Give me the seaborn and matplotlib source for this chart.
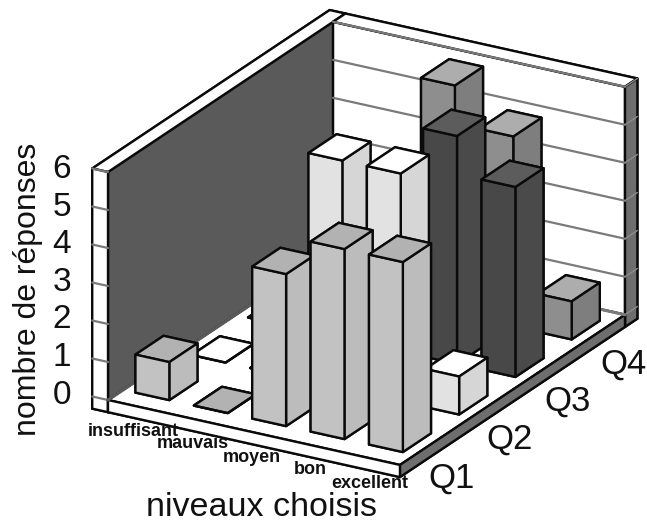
import numpy as np
import pandas as pd
import seaborn as sns
import matplotlib
matplotlib.use("Agg")
import matplotlib.pyplot as plt
from mpl_toolkits.mplot3d import proj3d

# ---- data -------------------------------------------------------------
levels = ["insuffisant", "mauvais", "moyen", "bon", "excellent"]
questions = ["Q1", "Q2", "Q3", "Q4"]
q1_values = [1, 0, 4, 5, 5]
q2_values = [0, 0, 6, 6, 1]
q3_values = [0, 0, 0, 6, 5]
q4_values = [0, 0, 6, 5, 1]
z_ticks = [0, 1, 2, 3, 4, 5, 6]
# face colours (top, front, side)
q1_colors = ["#b2b2b2", "#c2c2c2", "#bcbcbc"]
q2_colors = ["#ffffff", "#e2e2e2", "#d6d6d6"]
q3_colors = ["#5c5c5c", "#484848", "#4a4a4a"]
q4_colors = ["#adadad", "#8e8e8e", "#7e7e7e"]

df = pd.DataFrame({"Q1": q1_values, "Q2": q2_values, "Q3": q3_values, "Q4": q4_values}, index=levels)
palette = {"Q1": q1_colors, "Q2": q2_colors, "Q3": q3_colors, "Q4": q4_colors}

sns.set_theme(style="white")
plt.rcParams["font.family"] = ["Liberation Sans", "DejaVu Sans"]

W, H = 647, 523
fig = plt.figure(figsize=(W / 100, H / 100), dpi=100)
ax = fig.add_axes([0, 0, 1, 1], projection="3d")
ax.computed_zorder = False
ax.set_proj_type("ortho")
ax.view_init(elev=22.66, azim=-60)
ax.set_axis_off()
ax.patch.set_alpha(0)

nx, ny, zmax = len(levels), len(questions), max(z_ticks)
wall_x, wall_y, slab = 0.27, 0.22, 0.32
EDGE = "#0a0a0a"
WALL_DARK = "#5a5a5a"
END_GRAY = "#6e6e6e"
GRID = "#7a7a7a"


def box(x, y, z, dx, dy, dz, top, front, side, zo, lw=1.7):
    col = ax.bar3d(x, y, z, dx, dy, dz, color=[top, top, front, front, side, side],
                   shade=False, edgecolor=EDGE, linewidth=lw)
    col.set_zorder(zo)
    col.set_clip_on(False)
    return col


def seg(xs, ys, zs, c, w, zo):
    ln, = ax.plot(xs, ys, zs, color=c, lw=w, zorder=zo)
    ln.set_clip_on(False)


# chart frame: left wall, back wall, floor slab
box(-wall_x, 0, -slab, wall_x, ny + wall_y, zmax + slab, "#ffffff", "#ffffff", WALL_DARK, 1)
box(0, ny, -slab, nx, wall_y, zmax + slab, "#ffffff", "#ffffff", END_GRAY, 2)

# gridlines on back wall and front of left wall
for z in z_ticks:
    seg([0, nx], [ny, ny], [z, z], GRID, 1.6, 3)
    seg([-wall_x, 0], [0, 0], [z, z], GRID, 1.6, 3)
    seg([nx, nx], [ny, ny + wall_y], [z, z], "#8c8c8c", 1.0, 3)

box(0, 0, -slab, nx, ny, slab, "#ffffff", "#ffffff", END_GRAY, 4)
# soften the inner floor edges where walls meet the floor
seg([0, nx], [ny, ny], [0, 0], GRID, 2.2, 5)
seg([0, 0], [0, ny], [0, 0], WALL_DARK, 2.2, 5)

# bars, far to near
bar_w, bar_d = 0.58, 0.5
zo = 10
for j in reversed(range(ny)):
    q = questions[j]
    top, front, side = palette[q]
    for i, lev in enumerate(levels):
        box(i + 0.21, j + 0.27, 0, bar_w, bar_d, df.loc[lev, q], top, front, side, zo)
        zo += 1

ax.set_xlim(0, nx)
ax.set_ylim(0, ny)
ax.set_zlim(0, zmax)

# calibrate projection so the box lands where the reference has it
target_origin = (108, 400)
target_z_px = 228
zoom = 1.0
aspect = (337, 450, 247)


def to_px(x, y, z):
    fig.canvas.draw()
    M = ax.get_proj()
    a, b, _ = proj3d.proj_transform(x, y, z, M)
    return ax.transData.transform((a, b))


for _ in range(3):
    ax.set_box_aspect(aspect, zoom=zoom)
    p0, p1 = to_px(0, 0, 0), to_px(0, 0, zmax)
    zoom *= target_z_px / abs(p1[1] - p0[1])
ax.set_box_aspect(aspect, zoom=zoom)
p0 = to_px(0, 0, 0)
dx = (target_origin[0] - p0[0]) / W
dy = ((H - target_origin[1]) - p0[1]) / H
ax.set_position([dx, dy, 1, 1])


def ptext(x, y, s, **kw):
    fig.text(x / W, 1 - y / H, s, ha="center", va="center", color="#111111", **kw)


# z tick labels
for z in z_ticks:
    ptext(62, 395 - z * 37.6, str(z), fontsize=24)

# category labels
level_pos = [(133, 431), (193, 443), (252, 457), (310, 470), (370, 483)]
for lab, (x, y) in zip(levels, level_pos):
    ptext(x, y, lab, fontsize=13, fontweight="bold")

# depth labels
q_pos = [(452, 478), (510, 439), (568, 401), (623, 364)]
for lab, (x, y) in zip(questions, q_pos):
    ptext(x, y, lab, fontsize=25)

ptext(28, 289, "nombre de réponses", fontsize=23, rotation=90)
ptext(262, 507, "niveaux choisis", fontsize=24.5)

fig.savefig("out.png", dpi=100)
